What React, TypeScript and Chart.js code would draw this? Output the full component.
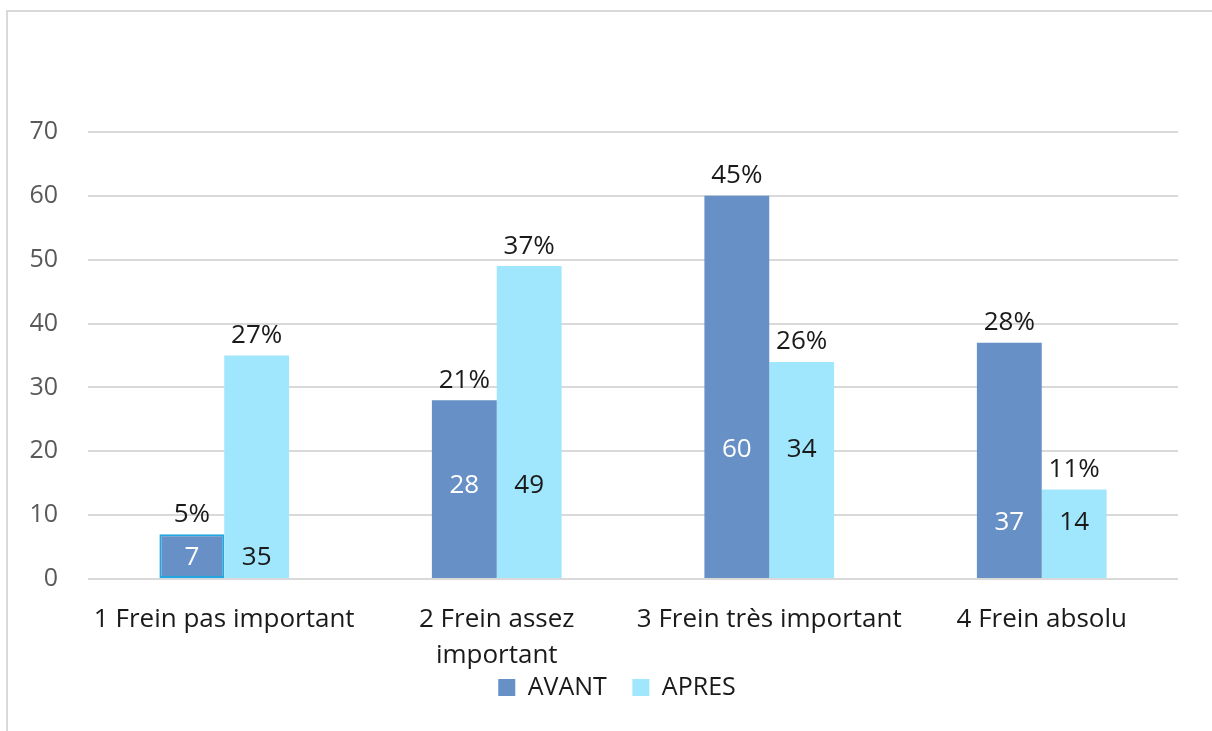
import React, { useEffect, useRef } from "react";
import { Chart, registerables } from "chart.js";

Chart.register(...registerables);

const categories: (string | string[])[] = [
  "1 Frein pas important",
  ["2 Frein assez", "important"],
  "3 Frein très important",
  "4 Frein absolu",
];
const avantValues = [7, 28, 60, 37];
const apresValues = [35, 49, 34, 14];
const avantPercent = ["5%", "21%", "45%", "28%"];
const apresPercent = ["27%", "37%", "26%", "11%"];
const yTicks = [0, 10, 20, 30, 40, 50, 60, 70];

const FONT = "'Open Sans', sans-serif";

const labelPlugin = {
  id: "barLabels",
  afterDatasetsDraw(chart: any, _args: any, opts: any) {
    const ctx = chart.ctx;
    const y = chart.scales.y;
    const pcts = [avantPercent, apresPercent];
    const insideColors = ["#ffffff", "#1a1a1a"];
    ctx.save();
    ctx.font = `26px ${FONT}`;
    ctx.textAlign = "center";
    chart.data.datasets.forEach((ds: any, di: number) => {
      const meta = chart.getDatasetMeta(di);
      meta.data.forEach((bar: any, i: number) => {
        ctx.fillStyle = "#1a1a1a";
        ctx.textBaseline = "middle";
        ctx.fillText(pcts[di][i], bar.x, bar.y - 20);
        ctx.fillStyle = insideColors[di];
        const lvl = opts.insideLevels[i];
        ctx.fillText(String(ds.data[i]), bar.x, y.getPixelForValue(lvl));
      });
    });
    ctx.restore();
  },
};

export default function App() {
  const ref = useRef<HTMLCanvasElement>(null);
  useEffect(() => {
    if (!ref.current) return;
    const defaultGen = (Chart as any).defaults.plugins.legend.labels.generateLabels;
    const chart = new Chart(ref.current, {
      type: "bar",
      data: {
        labels: categories,
        datasets: [
          {
            label: "AVANT",
            data: avantValues,
            backgroundColor: "#6690C6",
            borderColor: ["#22A7E0", "#6690C6", "#6690C6", "#6690C6"],
            borderWidth: [2, 0, 0, 0],
            borderSkipped: false,
            categoryPercentage: 0.476,
            barPercentage: 1,
          },
          {
            label: "APRES",
            data: apresValues,
            backgroundColor: "#A0E6FC",
            borderWidth: 0,
            categoryPercentage: 0.476,
            barPercentage: 1,
          },
        ],
      },
      options: {
        animation: false,
        responsive: false,
        maintainAspectRatio: false,
        events: [],
        layout: { padding: { top: 132, left: 22, right: 0, bottom: 21 } },
        plugins: {
          tooltip: { enabled: false },
          legend: {
            position: "bottom",
            labels: {
              boxWidth: 17,
              boxHeight: 17,
              color: "#1a1a1a",
              font: { family: FONT, size: 25 },
              padding: 6,
              generateLabels: (c: any) =>
                defaultGen(c).map((l: any, i: number) =>
                  i === 0 ? { ...l, text: l.text + "   ", lineWidth: 0 } : { ...l, lineWidth: 0 }
                ),
            },
          },
          barLabels: { insideLevels: [3.3, 14.6, 20.2, 8.8] },
        } as any,
        scales: {
          x: {
            grid: { display: false },
            border: { display: false },
            afterFit: (scale: any) => {
              scale.height = 90;
            },
            ticks: {
              color: "#1a1a1a",
              font: { family: FONT, size: 26, lineHeight: 1.4 },
              padding: 14,
              maxRotation: 0,
              autoSkip: false,
            },
          },
          y: {
            min: 0,
            max: 70,
            afterBuildTicks: (axis: any) => {
              axis.ticks = yTicks.map((v) => ({ value: v }));
            },
            afterFit: (scale: any) => {
              scale.width = 66;
            },
            grid: { color: "#d9d9d9", lineWidth: 2, drawTicks: false },
            border: { display: false },
            ticks: {
              color: "#595959",
              font: { family: FONT, size: 25 },
              padding: 30,
            },
          },
          y2: {
            position: "right",
            display: true,
            min: 0,
            max: 70,
            grid: { display: false, drawTicks: false },
            border: { display: false },
            ticks: { display: false },
            afterFit: (scale: any) => {
              scale.width = 34;
            },
          },
        },
      } as any,
      plugins: [labelPlugin],
    });
    return () => chart.destroy();
  }, []);

  return (
    <div style={{ position: "absolute", left: 0, top: 0, width: 1212, height: 731, background: "#fff" }}>
      <div
        style={{
          position: "absolute",
          left: 6,
          top: 10,
          width: 1212 - 6,
          height: 731 - 10,
          borderLeft: "2px solid #d9d9d9",
          borderTop: "2px solid #d9d9d9",
          boxSizing: "border-box",
        }}
      />
      <canvas ref={ref} width={1212} height={731} style={{ position: "absolute", left: 0, top: 0 }} />
    </div>
  );
}
